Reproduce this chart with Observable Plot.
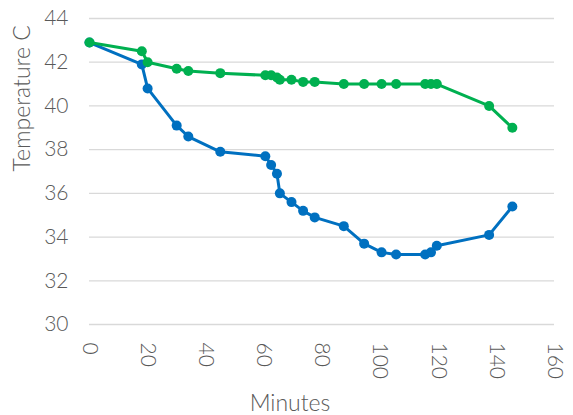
<!DOCTYPE html>
<html>
<head>
<meta charset="utf-8">
<script src="https://cdn.jsdelivr.net/npm/d3@7"></script>
<script src="https://cdn.jsdelivr.net/npm/@observablehq/plot@0.6"></script>
<style>
  html, body { margin: 0; padding: 0; background: #fff; }
</style>
</head>
<body>
<div id="chart"></div>
<script>
// Series 1 (blue)
const blueMinutes = [0, 18, 20, 30, 34, 45, 60.5, 62.5, 64.5, 65.5, 69.5, 73.5, 77.5, 87.5, 94.5, 100.5, 105.5, 115.5, 117.5, 119.5, 137.5, 145.5];
const blueTemps   = [42.9, 41.9, 40.8, 39.1, 38.6, 37.9, 37.7, 37.3, 36.9, 36.0, 35.6, 35.2, 34.9, 34.5, 33.7, 33.3, 33.2, 33.2, 33.3, 33.6, 34.1, 35.4];
// Series 2 (green)
const greenMinutes = [0, 18, 20, 30, 34, 45, 60.5, 62.5, 64.5, 65.5, 69.5, 73.5, 77.5, 87.5, 94.5, 100.5, 105.5, 115.5, 117.5, 119.5, 137.5, 145.5];
const greenTemps   = [42.9, 42.5, 42.0, 41.7, 41.6, 41.5, 41.4, 41.4, 41.3, 41.2, 41.2, 41.1, 41.1, 41.0, 41.0, 41.0, 41.0, 41.0, 41.0, 41.0, 40.0, 39.0];

const xTicks = [0, 20, 40, 60, 80, 100, 120, 140, 160];
const yTicks = [30, 32, 34, 36, 38, 40, 42, 44];
const xTitle = "Minutes";
const yTitle = "Temperature C";

const blue = blueMinutes.map((m, i) => ({m, t: blueTemps[i]}));
const green = greenMinutes.map((m, i) => ({m, t: greenTemps[i]}));

const BLUE = "#0070C0", GREEN = "#00B050";

const chart = Plot.plot({
  width: 573,
  height: 415,
  marginLeft: 89,
  marginRight: 19,
  marginTop: 18,
  marginBottom: 91,
  style: {fontFamily: "Lato, 'Open Sans', sans-serif", fontSize: "19px", fontWeight: 300, color: "#595959", background: "#fff"},
  x: {domain: [0, 160]},
  y: {domain: [30, 44]},
  marks: [
    Plot.gridY(yTicks, {stroke: "#d9d9d9", strokeOpacity: 1, strokeWidth: 1.3}),
    Plot.axisY(yTicks, {tickSize: 0, tickPadding: 21, label: null, fontSize: 21}),
    Plot.axisX(xTicks, {tickSize: 0, tickPadding: 18, tickRotate: 90, label: null, fontSize: 21}),
    Plot.line(blue, {x: "m", y: "t", stroke: BLUE, strokeWidth: 3}),
    Plot.dot(blue, {x: "m", y: "t", fill: BLUE, r: 5}),
    Plot.line(green, {x: "m", y: "t", stroke: GREEN, strokeWidth: 3}),
    Plot.dot(green, {x: "m", y: "t", fill: GREEN, r: 5}),
    Plot.text([yTitle], {frameAnchor: "left", rotate: -90, dx: -67, fontSize: 23, fill: "#595959"}),
    Plot.text([xTitle], {frameAnchor: "bottom", dx: -32, dy: 86, fontSize: 23, fill: "#595959"})
  ]
});
document.getElementById("chart").appendChild(chart);
</script>
</body>
</html>
